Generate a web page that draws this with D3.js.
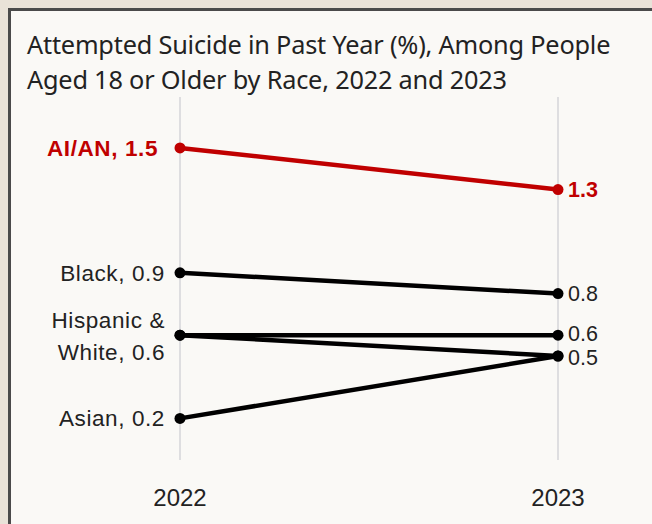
<!DOCTYPE html>
<html>
<head>
<meta charset="utf-8">
<script src="https://d3js.org/d3.v7.min.js"></script>
<style>
body { margin: 0; background: #e9e2d8; }
svg { display: block; }
</style>
</head>
<body>
<div id="chart"></div>
<script>
  var years = ["2022", "2023"];
  var groups = ["AI/AN", "Black", "Hispanic", "White", "Asian"];
  var v2022 = [1.5, 0.9, 0.6, 0.6, 0.2];
  var v2023 = [1.3, 0.8, 0.6, 0.5, 0.5];
  var colors = ["#c00000", "#000", "#000", "#000", "#000"];
  var leftLabels = [["AI/AN, 1.5"], ["Black, 0.9"], ["Hispanic &", "White, 0.6"], [], ["Asian, 0.2"]];
  var rightLabels = ["1.3", "0.8", "0.6", "0.5", "0.5"];
  var showRight = [true, true, true, false, true];
  var titleLines = ["Attempted Suicide in Past Year (%), Among People", "Aged 18 or Older by Race, 2022 and 2023"];

  var width = 652, height = 524;
  var svg = d3.select("#chart").append("svg").attr("width", width).attr("height", height);

  // panel
  svg.append("rect").attr("x", 9.5).attr("y", 9.5).attr("width", 660).attr("height", 540)
    .attr("fill", "#faf9f6").attr("stroke", "#4a4a4a").attr("stroke-width", 3);

  svg.selectAll(".title").data(titleLines).enter().append("text")
    .attr("x", 27).attr("y", function(d, i) { return 54 + i * 35; })
    .attr("font-family", "Noto Sans").attr("font-size", 25.3).attr("fill", "#222")
    .attr("letter-spacing", -0.2)
    .text(function(d) { return d; });

  var x = d3.scalePoint().domain(years).range([180, 558]);
  var y = d3.scaleLinear().domain([0, 1.745]).range([460, 97]);

  svg.selectAll(".grid").data(years).enter().append("line")
    .attr("x1", function(d) { return x(d); }).attr("x2", function(d) { return x(d); })
    .attr("y1", y(1.745)).attr("y2", y(0))
    .attr("stroke", "#d4d4d8").attr("stroke-width", 1.5);

  svg.selectAll(".year").data(years).enter().append("text")
    .attr("x", function(d) { return x(d); }).attr("y", 506)
    .attr("text-anchor", "middle").attr("font-family", "Liberation Sans").attr("font-size", 24)
    .attr("fill", "#222").text(function(d) { return d; });

  var data = groups.map(function(g, i) { return {g: g, a: v2022[i], b: v2023[i], c: colors[i], i: i}; });

  // right label positions, pushed apart a little where they collide
  var ry = data.map(function(d) { return y(d.b); });
  var shown = data.filter(function(d) { return showRight[d.i]; }).map(function(d) { return d.i; });
  for (var k = 1; k < shown.length; k++) {
    var gap = ry[shown[k]] - ry[shown[k - 1]];
    if (gap < 24) {
      ry[shown[k - 1]] -= (24 - gap) / 2;
      ry[shown[k]] += (24 - gap) / 2;
    }
  }

  // draw black first, red on top
  data.sort(function(p, q) { return (p.c === "#c00000") - (q.c === "#c00000"); });

  var line = d3.line().x(function(d) { return x(d[0]); }).y(function(d) { return y(d[1]); });

  var g = svg.selectAll(".series").data(data).enter().append("g");
  g.append("path")
    .attr("d", function(d) { return line([[years[0], d.a], [years[1], d.b]]); })
    .attr("stroke", function(d) { return d.c; }).attr("stroke-width", 4.5).attr("fill", "none");
  g.append("circle").attr("cx", x(years[0])).attr("cy", function(d) { return y(d.a); })
    .attr("r", 5.5).attr("fill", function(d) { return d.c; });
  g.append("circle").attr("cx", x(years[1])).attr("cy", function(d) { return y(d.b); })
    .attr("r", 5.5).attr("fill", function(d) { return d.c; });

  g.each(function(d) {
    var lines = leftLabels[d.i];
    var sel = d3.select(this);
    var red = d.c === "#c00000";
    lines.forEach(function(t, k) {
      sel.append("text")
        .attr("x", x(years[0]) - (red ? 22 : 15))
        .attr("y", y(d.a) + (lines.length > 1 ? (k === 0 ? -15 : 17) : 0))
        .attr("dy", "0.35em").attr("text-anchor", "end")
        .attr("font-family", "Liberation Sans").attr("font-size", 22.5)
        .attr("font-weight", red ? "bold" : "normal")
        .attr("letter-spacing", 0.6)
        .attr("fill", red ? "#c00000" : "#222").text(t);
    });
    if (showRight[d.i]) {
      sel.append("text").attr("x", x(years[1]) + 10).attr("y", ry[d.i]).attr("dy", "0.35em")
        .attr("font-family", "Liberation Sans").attr("font-size", 21.5)
        .attr("font-weight", red ? "bold" : "normal")
        .attr("fill", red ? "#c00000" : "#222").text(rightLabels[d.i]);
    }
  });
</script>
</body>
</html>
